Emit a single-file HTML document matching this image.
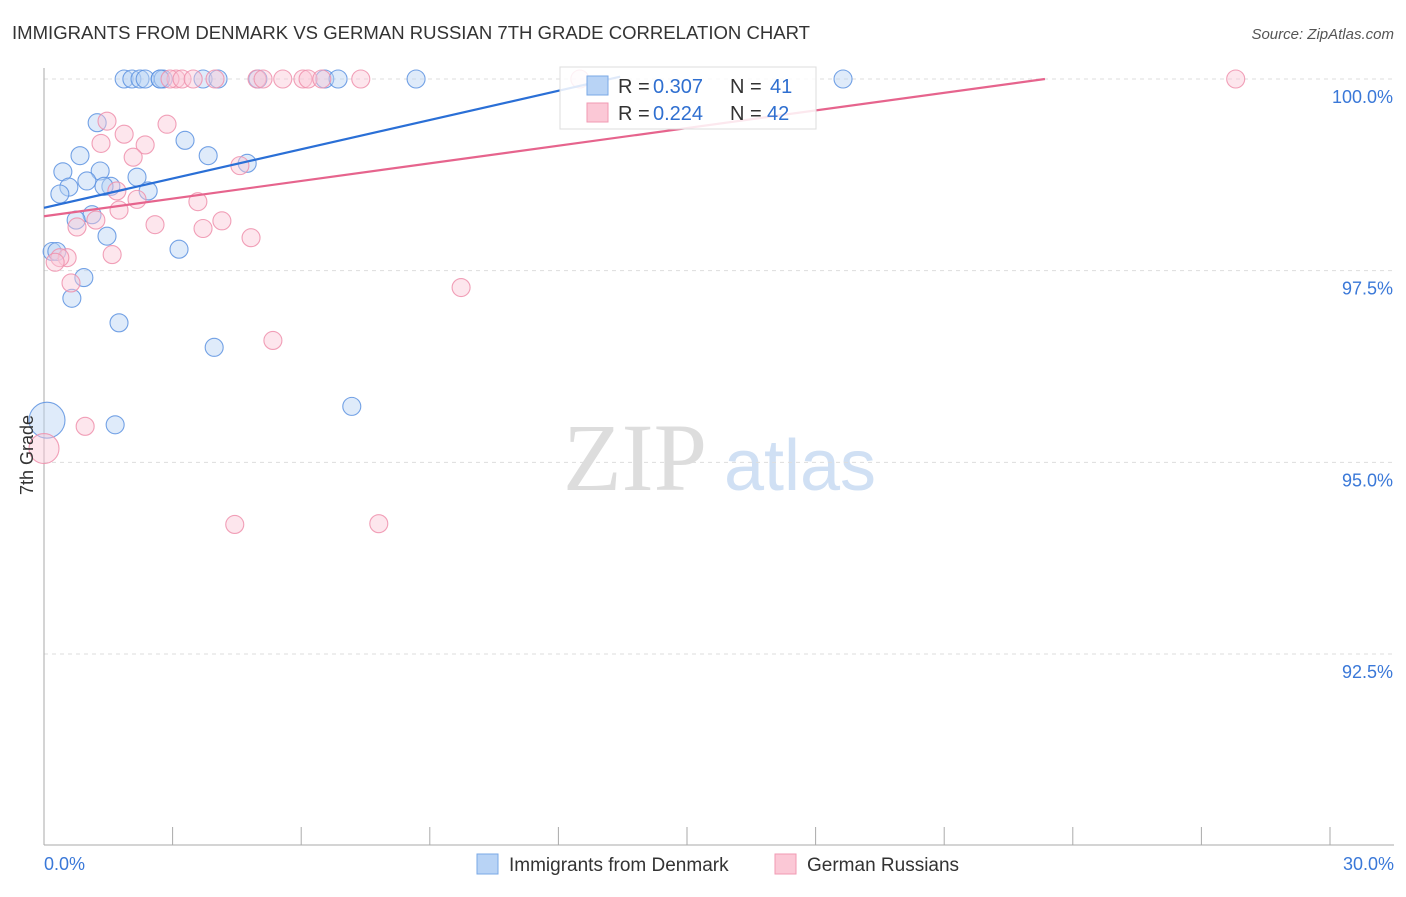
<!DOCTYPE html>
<html><head><meta charset="utf-8"><style>
body{margin:0;background:#fff;font-family:"Liberation Sans",sans-serif;}
</style></head><body>
<svg width="1406" height="892" xmlns="http://www.w3.org/2000/svg" font-family="Liberation Sans, sans-serif">
<text x="12" y="39" font-size="18" fill="#333" textLength="798" lengthAdjust="spacingAndGlyphs">IMMIGRANTS FROM DENMARK VS GERMAN RUSSIAN 7TH GRADE CORRELATION CHART</text>
<text x="1394" y="39" font-size="15" fill="#555" text-anchor="end" font-style="italic">Source: ZipAtlas.com</text>
<g>
<text x="635" y="490" font-size="96" fill="#ddd" text-anchor="middle" font-family="Liberation Serif, serif">ZIP</text>
<text x="800" y="490" font-size="72" fill="#d0e0f4" text-anchor="middle">atlas</text>
</g>
<g id="grid"></g>
<g id="axes"></g>
<g id="marks"></g>
<text transform="translate(33,455) rotate(-90)" font-size="18" fill="#333" text-anchor="middle">7th Grade</text>
<g>
<rect x="560" y="67" width="256" height="62" fill="#fff" fill-opacity="0.85" stroke="#ddd"/>
<rect x="587" y="76" width="21" height="19" fill="#b8d3f5" stroke="#7aa8e6"/>
<rect x="587" y="103" width="21" height="19" fill="#fbc8d6" stroke="#f09ab3"/>
<text x="618" y="93" font-size="20" fill="#333">R =</text>
<text x="653" y="93" font-size="20" fill="#2f6fd0">0.307</text>
<text x="730" y="93" font-size="20" fill="#333">N =</text>
<text x="770" y="93" font-size="20" fill="#2f6fd0">41</text>
<text x="618" y="120" font-size="20" fill="#333">R =</text>
<text x="653" y="120" font-size="20" fill="#2f6fd0">0.224</text>
<text x="730" y="120" font-size="20" fill="#333">N =</text>
<text x="767" y="120" font-size="20" fill="#2f6fd0">42</text>
</g>
<g>
<rect x="477" y="854" width="21" height="20" fill="#b8d3f5" stroke="#7aa8e6"/>
<text x="509" y="871" font-size="19" fill="#333">Immigrants from Denmark</text>
<rect x="775" y="854" width="21" height="20" fill="#fbc8d6" stroke="#f09ab3"/>
<text x="807" y="871" font-size="19" fill="#333">German Russians</text>
</g>
</svg>
<script>
const yTicks=[92.5,95.0,97.5,100.0];
const xTickVals=[0,3,6,9,12,15,18,21,24,27,30];
const blueX=[1.87,2.05,2.24,2.36,2.71,2.78,3.71,4.06,4.99,6.55,6.86,8.68,18.64,1.24,3.29,0.84,3.83,0.44,1.31,4.74,1.00,2.17,0.58,0.37,1.56,1.40,2.43,1.12,0.75,1.47,0.19,0.30,3.15,0.93,0.65,1.75,3.97,7.18,1.66,0.07,2.71];
const blueY=[100,100,100,100,100,100,100,100,100,100,100,100,100,99.43,99.20,99.00,99.00,98.79,98.80,98.90,98.67,98.72,98.59,98.50,98.60,98.60,98.54,98.23,98.16,97.95,97.75,97.75,97.78,97.41,97.14,96.82,96.50,95.73,95.49,95.55,100];
const blueR=[9,9,9,9,9,9,9,9,9,9,9,9,9,9,9,9,9,9,9,9,9,9,9,9,9,9,9,9,9,9,9,9,9,9,9,9,9,9,9,18,9];
const pinkX=[3.08,2.94,3.22,3.48,3.99,4.97,5.11,5.57,6.04,6.16,6.48,7.39,12.50,27.80,1.47,2.87,1.87,2.36,1.33,2.08,4.57,1.70,3.59,2.17,1.75,1.21,0.77,2.59,4.15,3.71,4.83,0.54,0.37,0.26,1.59,0.63,9.73,5.34,0.96,4.45,7.81,0.0];
const pinkY=[100,100,100,100,100,100,100,100,100,100,100,100,100,100,99.45,99.41,99.28,99.14,99.16,98.98,98.87,98.54,98.40,98.43,98.29,98.16,98.07,98.10,98.15,98.05,97.93,97.67,97.67,97.61,97.71,97.34,97.28,96.59,95.47,94.19,94.20,95.18];
const pinkR=[9,9,9,9,9,9,9,9,9,9,9,9,9,9,9,9,9,9,9,9,9,9,9,9,9,9,9,9,9,9,9,9,9,9,9,9,9,9,9,9,9,15];
const blueTrend=[[0,98.32],[13.44,100.03]];
const pinkTrend=[[0,98.21],[23.35,100.0]];
const NS='http://www.w3.org/2000/svg';
const X0=44,X1=1330,Ytop100=79,PerPct=76.67;
const sx=v=>X0+(X1-X0)*v/30;
const sy=v=>Ytop100+(100-v)*PerPct;
function mk(t,a,p){const e=document.createElementNS(NS,t);for(const k in a)e.setAttribute(k,a[k]);p.appendChild(e);return e;}
const grid=document.getElementById('grid'),axes=document.getElementById('axes'),marks=document.getElementById('marks');
yTicks.forEach(t=>{const l=mk('line',{x1:44,x2:1394,y1:sy(t),y2:sy(t),stroke:'#ddd','stroke-dasharray':'4,4'},grid);


const tx=mk('text',{x:1393,y:sy(t)+24,'font-size':18,fill:'#3a78d8','text-anchor':'end'},axes);tx.textContent=t.toFixed(1)+'%';

});
const ya=mk('line',{x1:44,x2:44,y1:68,y2:845,stroke:'#aaa'},axes);


const xa=mk('line',{x1:44,x2:1394,y1:845,y2:845,stroke:'#aaa'},axes);


xTickVals.forEach(t=>{const l=mk('line',{x1:sx(t),x2:sx(t),y1:827,y2:845,stroke:'#aaa'},axes);

});
[[0,'start'],[30,'end']].forEach(([v,a])=>{const tx=mk('text',{x:v==0?44:1394,y:870,'font-size':18,fill:'#3a78d8','text-anchor':a},axes);tx.textContent=v.toFixed(1)+'%';

});
function dots(xs,ys,rs,fill,stroke,name){xs.forEach((x,i)=>{const c=mk('circle',{cx:sx(x),cy:sy(ys[i]),r:rs[i],fill:fill,'fill-opacity':0.45,stroke:stroke,'stroke-width':1.1,'stroke-opacity':0.85},marks);

});}
dots(blueX,blueY,blueR,'#b8d3f5','#5c92e0','denmark-point');
dots(pinkX,pinkY,pinkR,'#fbc8d6','#ee8fab','german-russian-point');
function trend(p,col,name){const l=mk('line',{x1:sx(p[0][0]),y1:sy(p[0][1]),x2:sx(p[1][0]),y2:sy(p[1][1]),stroke:col,'stroke-width':2.2},marks);

}
trend(blueTrend,'#2a6fd6','denmark-trendline');
trend(pinkTrend,'#e6648d','german-russian-trendline');
</script>
</body></html>
